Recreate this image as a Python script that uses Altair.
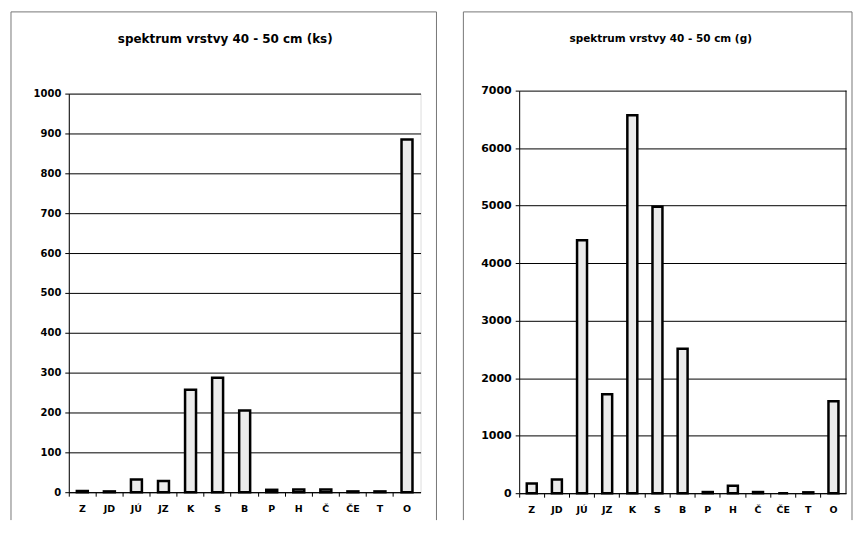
import altair as alt
import pandas as pd

categories = ["Z", "JD", "JÚ", "JZ", "K", "S", "B", "P", "H", "Č", "ČE", "T", "O"]
values_ks = [3, 2, 32, 28, 257, 287, 205, 6, 7, 7, 2, 2, 885]
values_g = [170, 240, 4400, 1720, 6570, 4980, 2510, 20, 130, 20, 0, 15, 1600]
title_ks = "spektrum vrstvy 40 - 50 cm (ks)"
title_g = "spektrum vrstvy 40 - 50 cm (g)"
ticks_ks = list(range(0, 1001, 100))
ticks_g = list(range(0, 7001, 1000))

FONT = "DejaVu Sans"
one = pd.DataFrame({"a": [0]})


def frame(x0, x1, y0, y1):
    base = alt.Chart(one)
    left = base.mark_rule(color="#777777", strokeWidth=1).encode(
        x=alt.value(x0), y=alt.value(y0), y2=alt.value(y1))
    right = base.mark_rule(color="#777777", strokeWidth=1).encode(
        x=alt.value(x1), y=alt.value(y0), y2=alt.value(y1))
    top = base.mark_rule(color="#777777", strokeWidth=1).encode(
        x=alt.value(x0), x2=alt.value(x1), y=alt.value(y0))
    return [left, right, top]


def panel(vals, ticks, title, w, h, yrange, bar, tsize, lsize,
          fx0, fx1, fy0, fy1, tx, ty, own_frame):
    df = pd.DataFrame({"cat": categories, "val": vals})
    bars = alt.Chart(df).mark_bar(
        size=bar, fill="#ebebeb", stroke="black", strokeWidth=2.5
    ).encode(
        x=alt.X("cat:N", sort=categories, title=None,
                scale=alt.Scale(paddingInner=0, paddingOuter=0),
                axis=alt.Axis(labelAngle=0, bandPosition=0, ticks=True, tickSize=4,
                              tickColor="black", domainColor="black", labelPadding=7,
                              labelFont=FONT, labelFontSize=9.5, labelFontWeight="bold",
                              labelColor="black", grid=False, labelBound=False,
                              labelOverlap=False)),
        y=alt.Y("val:Q", title=None,
                scale=alt.Scale(domain=[ticks[0], ticks[-1]], nice=False, range=yrange),
                axis=alt.Axis(values=ticks, format="d", tickSize=4, tickColor="black",
                              domainColor="black", labelFont=FONT, labelFontSize=lsize,
                              labelFontWeight="bold", labelColor="black", labelPadding=4,
                              grid=True, gridColor="black", gridWidth=1)),
    )
    ttl = alt.Chart(pd.DataFrame({"t": [title]})).mark_text(
        font=FONT, fontSize=tsize, fontWeight="bold", color="black",
        align="center", baseline="middle"
    ).encode(text="t:N", x=alt.value(tx), y=alt.value(ty))
    layers = [bars, ttl] + frame(fx0, fx1, fy0, fy1)
    if own_frame:
        layers.append(alt.Chart(one).mark_rule(color="black", strokeWidth=1).encode(
            x=alt.value(w), y=alt.value(yrange[1]), y2=alt.value(yrange[0])))
        return alt.layer(*layers).properties(
            width=w, height=h, view=alt.ViewBackground(stroke="transparent"))
    return alt.layer(*layers).properties(width=w, height=h)


left = panel(values_ks, ticks_ks, title_ks, 353, 400, [400, 0], 11, 12, 10,
             -58, 369, -82, 428, 157, -55, False)
right = panel(values_g, ticks_g, title_g, 328, 401, [401, -3], 10, 10.5, 11,
              -56, 334, -82, 428, 142, -55, True)

chart = alt.hconcat(left, right, spacing=25).properties(
    padding={"left": 2, "top": 2, "right": 0, "bottom": 0}
).configure_view(stroke="black", strokeWidth=1).configure(background="white")

chart.save("out.html", embed_options={"renderer": "svg", "actions": False})
